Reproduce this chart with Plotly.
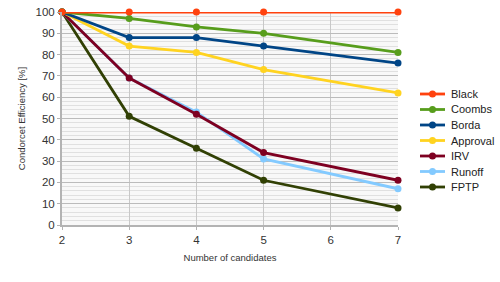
import plotly.graph_objects as go

candidates = [2, 3, 4, 5, 7]
names = ["Black", "Coombs", "Borda", "Approval", "IRV", "Runoff", "FPTP"]
black = [100, 100, 100, 100, 100]
coombs = [100, 97, 93, 90, 81]
borda = [100, 88, 88, 84, 76]
approval = [100, 84, 81, 73, 62]
irv = [100, 69, 52, 34, 21]
runoff = [100, 69, 53, 31, 17]
fptp = [100, 51, 36, 21, 8]
colors = ["#ff420e", "#579d1c", "#004586", "#ffd320", "#7e0021", "#83caff", "#314004"]
series = [black, coombs, borda, approval, irv, runoff, fptp]

W, H = 500, 282
L, R, T, B = 62, 102, 12, 57
pw, ph = W - L - R, H - T - B

fig = go.Figure()
for name, vals, c in reversed(list(zip(names, series, colors))):
    fig.add_trace(go.Scatter(x=candidates, y=vals, name=name, mode="lines+markers",
                             cliponaxis=False, showlegend=False,
                             line=dict(color=c, width=2.8), marker=dict(color=c, size=7)))

# manual compact legend (pixel layout converted to paper coords)
def px(x):
    return (x - L) / pw

def py(y):
    return (H - B - y) / ph

y0, step = 94, 15.5
for i, (name, c) in enumerate(zip(names, colors)):
    yy = y0 + i * step
    fig.add_shape(type="line", xref="paper", yref="paper", x0=px(420), x1=px(445),
                  y0=py(yy), y1=py(yy), line=dict(color=c, width=2.8))
    fig.add_shape(type="circle", xref="paper", yref="paper", x0=px(429), x1=px(436),
                  y0=py(yy + 3.5), y1=py(yy - 3.5), fillcolor=c, line=dict(width=0))
    fig.add_annotation(text=name, xref="paper", yref="paper", x=px(449), y=py(yy),
                       xanchor="left", yanchor="middle", showarrow=False,
                       font=dict(size=11, color="#222"))

fig.update_layout(
    width=W, height=H,
    margin=dict(l=L, r=R, t=T, b=B, autoexpand=False),
    paper_bgcolor="white", plot_bgcolor="#f8f8f8",
    font=dict(family="Liberation Sans, Arial", size=11, color="#333"),
    showlegend=False,
    xaxis=dict(range=[2, 7], dtick=1, showgrid=True, gridcolor="#c8c8c8", gridwidth=1,
               showline=True, linecolor="#b3b3b3", linewidth=2, ticks="outside",
               ticklen=3, tickcolor="#b3b3b3", zeroline=False,
               tickfont=dict(size=11.5),
               title=dict(text="Number of candidates", font=dict(size=9.5), standoff=10)),
    yaxis=dict(range=[0, 100], dtick=10, showgrid=True, gridcolor="#bbbbbb", gridwidth=1,
               minor=dict(dtick=2, showgrid=True, gridcolor="#e0e0e0", gridwidth=1),
               showline=True, linecolor="#b3b3b3", linewidth=2, ticks="outside",
               ticklen=3, tickcolor="#b3b3b3", zeroline=False,
               tickfont=dict(size=11.5),
               title=dict(text="Condorcet Efficiency [%]", font=dict(size=9.5), standoff=8)),
)
fig.write_html("out.html")
